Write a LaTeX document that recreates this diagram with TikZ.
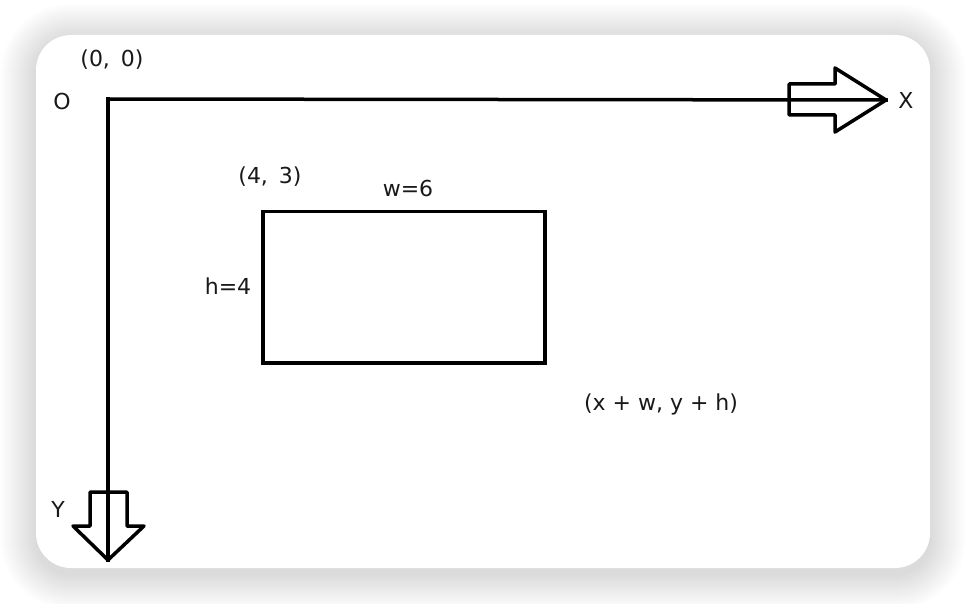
\documentclass[tikz,border=0pt]{standalone}
\usepackage{fontspec}
\setmainfont{DejaVu Sans}
\usetikzlibrary{positioning}

\tikzset{
  lbl/.style={font=\fontsize{22}{25}\selectfont, text=black!90, inner sep=1pt},
  axis/.style={line width=3.5pt, line cap=rect},
  hollow/.style={line width=3.5pt, line join=round, fill=none}
}

\begin{document}
\begin{tikzpicture}[x=1pt,y=-1pt]
        \useasboundingbox (0,0) rectangle (966,604);
        \fill[white] (0,0) rectangle (966,604);
        % soft shadow round the card
        \foreach \i in {1,...,36}
            \fill[black, opacity=0.0045, rounded corners=35pt+\i pt]
                (36-\i,39-\i) rectangle (930+\i,574+\i);
        \fill[white, rounded corners=35pt] (36,35) rectangle (930,568);

        % axes
        \coordinate (O) at (108,99);
        \coordinate (xtip) at (886,100);
        \coordinate (ytip) at (108,560);
        \draw[axis] (O) -- (xtip);
        \draw[axis] (O) -- (ytip);
        \draw[hollow] (789,84) -- (835,84) -- (835,68) -- (xtip) -- (835,132)
            -- (835,115) -- (789,115) -- cycle;
        \draw[hollow] (90,492) -- (90,526) -- (73,526) -- (ytip) -- (144,526)
            -- (127,526) -- (127,492) -- cycle;

        % rectangle
        \node[draw, line width=3.5pt, anchor=north west, inner sep=0pt,
              minimum width=282pt, minimum height=151pt] (box) at (261,210) {};

        % labels
        \node[lbl] (origin) at (112,60) {(0,\enspace0)};
        \node[lbl] (o) at (62,101) {O};
        \node[lbl] (xl) at (906,100) {X};
        \node[lbl] (yl) at (58,509) {Y};
        \node[lbl] (corner) at (270,177) {(4,\enspace3)};
        \node[lbl] (wl) at (408,188) {w=6};
        \node[lbl] (hl) at (228,286) {h=4};
        \node[lbl] (far) at (661,404) {(x + w, y + h)};
\end{tikzpicture}
\end{document}
